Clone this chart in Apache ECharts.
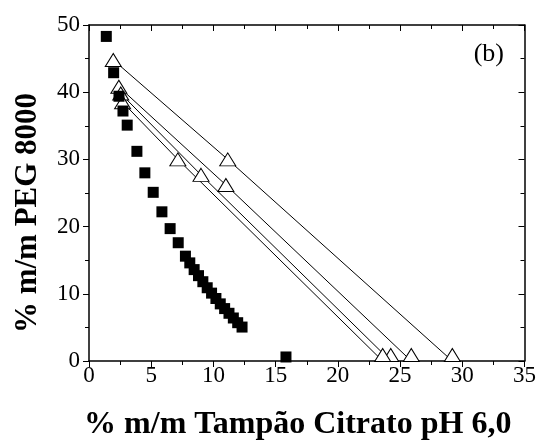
<!DOCTYPE html>
<html lang="pt">
<head>
    <meta charset="UTF-8">
    <title>Diagrama de fases</title>
    <style type="text/css">
        * { margin: 0; padding: 0; }
        html, body { width: 100%; height: 100%; background: #fff; }
        #chart-panel { width: 539px; height: 446px; }
    </style>
</head>
<body>
<div id="chart-panel"></div>
<script src="https://cdn.jsdelivr.net/npm/echarts@6/dist/echarts.min.js"></script>
<script>
    // binodal curve (filled squares)
    let binodalX = [1.39, 1.98, 2.41, 2.73, 3.07, 3.85, 4.49, 5.16, 5.86, 6.52, 7.17, 7.75, 8.1, 8.45, 8.8, 9.15, 9.5, 9.85, 10.2, 10.55, 10.9, 11.25, 11.6, 11.95, 12.3, 15.83];
    let binodalY = [48.3, 42.9, 39.4, 37.2, 35.1, 31.2, 28.0, 25.1, 22.2, 19.7, 17.6, 15.6, 14.6, 13.6, 12.7, 11.8, 10.9, 10.1, 9.3, 8.5, 7.8, 7.1, 6.4, 5.7, 5.05, 0.6];

    // tie lines: top phase, feed point, bottom phase (open triangles)
    let tieTopX = [1.95, 2.4, 2.55, 2.7];
    let tieTopY = [44.8, 40.8, 39.8, 38.5];
    let tieMidX = [11.15, 11.0, 9.0, 7.14];
    let tieMidY = [30.0, 26.2, 27.7, 30.0];
    let tieBotX = [29.2, 25.9, 24.25, 23.6];
    let tieBotY = [0, 0, 0, 0];

    let xTicks = [0, 5, 10, 15, 20, 25, 30, 35];
    let yTicks = [0, 10, 20, 30, 40, 50];

    const font = "'Liberation Serif', 'Times New Roman', serif";
    const black = '#000';

    var myChart = echarts.init(document.getElementById('chart-panel'));

    let triStyle = { color: '#fff', borderColor: black, borderWidth: 1, opacity: 1 };

    let tieSeries = tieTopX.map((v, i) => ({
        type: 'line',
        data: [
            [v, tieTopY[i]],
            [tieMidX[i], tieMidY[i]],
            { value: [tieBotX[i], tieBotY[i]], symbolOffset: [0, -6] }
        ],
        symbol: 'triangle',
        symbolSize: [16, 13],
        showSymbol: true,
        itemStyle: triStyle,
        lineStyle: { color: black, width: 1 },
        clip: false,
        z: 2,
        animation: false
    }));

    const tickStyle = { color: black, width: 1 };

    function frameAxis(extra) {
        return Object.assign({
            axisLine: { show: true, onZero: false, lineStyle: { color: black, width: 1.5 } },
            splitLine: { show: false },
            axisTick: { show: true, length: 6, lineStyle: tickStyle },
            minorTick: { show: true, splitNumber: 2, length: 4, lineStyle: tickStyle }
        }, extra);
    }

    var option = {
        backgroundColor: '#fff',
        animation: false,
        title: {
            text: '(b)',
            right: 30,
            top: 36,
            textStyle: { fontFamily: font, fontSize: 26, fontWeight: 'normal', color: black }
        },
        grid: { left: 89, right: 13, top: 25, bottom: 85, containLabel: false },
        xAxis: [
            frameAxis({
                type: 'value', position: 'bottom',
                min: xTicks[0], max: xTicks[xTicks.length - 1], interval: 5,
                name: '% m/m Tampão Citrato pH 6,0',
                nameLocation: 'middle',
                nameGap: 48,
                nameTextStyle: { fontFamily: font, fontSize: 32, fontWeight: 'bold', color: black, padding: [0, 18, 0, 0] },
                axisLabel: { fontFamily: font, fontSize: 23, color: black, margin: 3 }
            }),
            frameAxis({
                type: 'value', position: 'top',
                min: xTicks[0], max: xTicks[xTicks.length - 1], interval: 5,
                axisTick: { show: true, inside: true, length: 6, lineStyle: tickStyle },
                minorTick: { show: true, splitNumber: 2, length: 4, lineStyle: tickStyle },
                axisLabel: { show: false }
            })
        ],
        yAxis: [
            frameAxis({
                type: 'value', position: 'left',
                min: yTicks[0], max: yTicks[yTicks.length - 1], interval: 10,
                name: '% m/m PEG 8000',
                nameLocation: 'middle',
                nameGap: 46,
                nameTextStyle: { fontFamily: font, fontSize: 31, fontWeight: 'bold', color: black, padding: [0, 40, 0, 0] },
                axisLabel: { fontFamily: font, fontSize: 23, color: black, margin: 9 }
            }),
            frameAxis({
                type: 'value', position: 'right',
                min: yTicks[0], max: yTicks[yTicks.length - 1], interval: 10,
                axisTick: { show: true, inside: true, length: 6, lineStyle: tickStyle },
                minorTick: { show: true, splitNumber: 2, length: 4, lineStyle: tickStyle },
                axisLabel: { show: false }
            })
        ],
        series: tieSeries.concat([{
            type: 'scatter',
            data: binodalX.map((v, i) => [v, binodalY[i]]),
            symbol: 'rect',
            symbolSize: 11,
            itemStyle: { color: black, opacity: 1 },
            z: 3,
            animation: false
        }])
    };
    myChart.setOption(option);
</script>
</body>
</html>
